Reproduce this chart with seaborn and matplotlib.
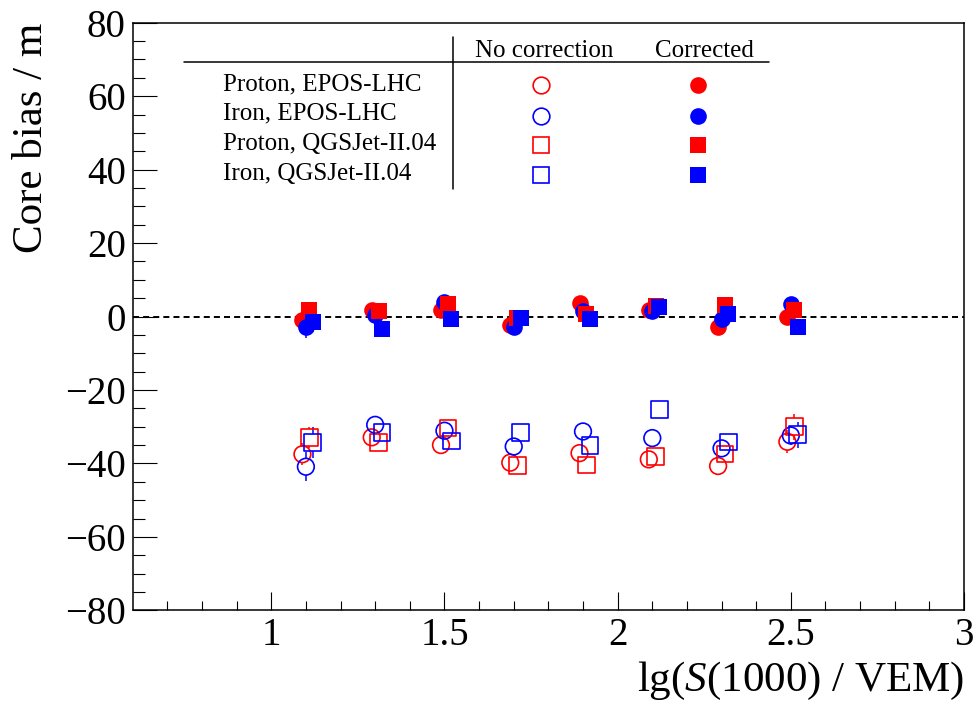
import numpy as np
import pandas as pd
import matplotlib
matplotlib.use("Agg")
import matplotlib.pyplot as plt
import seaborn as sns

# ---------------- data ----------------
lgS = [1.1, 1.3, 1.5, 1.7, 1.9, 2.1, 2.3, 2.5]
series_names = ["Proton, EPOS-LHC", "Iron, EPOS-LHC",
                "Proton, QGSJet-II.04", "Iron, QGSJet-II.04"]
x_shift = [-0.01, 0.0, 0.01, 0.02]

nocorr_p_epos = [-37.5, -32.9, -35.0, -39.8, -37.2, -38.9, -40.7, -34.1]
nocorr_fe_epos = [-40.9, -29.5, -31.1, -35.4, -31.3, -33.1, -35.9, -32.4]
nocorr_p_qgs = [-32.9, -34.3, -30.4, -40.6, -40.4, -38.1, -37.4, -30.0]
nocorr_fe_qgs = [-34.3, -31.5, -33.9, -31.5, -35.2, -25.4, -34.2, -32.2]

corr_p_epos = [-0.9, 1.9, 1.8, -2.2, 3.6, 1.9, -2.8, -0.2]
corr_fe_epos = [-2.9, 0.3, 4.0, -2.8, 1.5, 1.5, -0.8, 3.4]
corr_p_qgs = [1.8, 1.5, 3.5, -0.5, 0.8, 2.8, 3.1, 1.9]
corr_fe_qgs = [-1.5, -3.5, -0.6, -0.5, -0.8, 2.6, 0.6, -2.8]

err_nocorr_p_epos = [3.0, 2.0, 2.0, 2.0, 2.0, 2.0, 2.0, 3.2]
err_nocorr_fe_epos = [3.9, 2.0, 2.0, 2.0, 2.0, 2.0, 2.0, 2.5]
err_nocorr_p_qgs = [2.9, 2.0, 2.0, 2.0, 2.0, 2.0, 2.0, 3.5]
err_nocorr_fe_qgs = [4.1, 2.0, 2.0, 2.0, 2.0, 2.0, 2.0, 3.5]

err_corr_p_epos = [2.0, 1.5, 1.5, 1.5, 1.5, 1.5, 1.5, 2.0]
err_corr_fe_epos = [2.9, 1.5, 1.5, 1.5, 1.5, 1.5, 1.5, 2.0]
err_corr_p_qgs = [2.0, 1.5, 1.5, 1.5, 1.5, 1.5, 1.5, 2.0]
err_corr_fe_qgs = [2.6, 1.5, 1.5, 1.5, 1.5, 1.5, 1.5, 2.0]

series_colors = ["#ff0000", "#0000ff", "#ff0000", "#0000ff"]
series_markers = ["o", "o", "s", "s"]

nocorr = [nocorr_p_epos, nocorr_fe_epos, nocorr_p_qgs, nocorr_fe_qgs]
corr = [corr_p_epos, corr_fe_epos, corr_p_qgs, corr_fe_qgs]
err_nocorr = [err_nocorr_p_epos, err_nocorr_fe_epos, err_nocorr_p_qgs, err_nocorr_fe_qgs]
err_corr = [err_corr_p_epos, err_corr_fe_epos, err_corr_p_qgs, err_corr_fe_qgs]

rows = []
for i, name in enumerate(series_names):
    for j, xv in enumerate(lgS):
        rows.append(dict(series=name, idx=i, x=xv + x_shift[i], bias=nocorr[i][j],
                         err=err_nocorr[i][j], corrected=False))
        rows.append(dict(series=name, idx=i, x=xv + x_shift[i], bias=corr[i][j],
                         err=err_corr[i][j], corrected=True))
df = pd.DataFrame(rows)

# ---------------- style ----------------
sns.set_theme(style="ticks")
plt.rcParams["font.family"] = ["Liberation Serif", "DejaVu Serif"]
plt.rcParams["mathtext.fontset"] = "custom"
plt.rcParams["mathtext.rm"] = "Liberation Serif"
plt.rcParams["mathtext.it"] = "Liberation Serif:italic"
plt.rcParams["axes.unicode_minus"] = True
for key in ["text.color", "axes.labelcolor", "xtick.color", "ytick.color",
            "xtick.labelcolor", "ytick.labelcolor", "axes.edgecolor"]:
    plt.rcParams[key] = "black"

fig = plt.figure(figsize=(9.78, 7.05), dpi=100)
ax = fig.add_axes([0.1357, 0.1343, 0.85, 0.8335])

XMIN, XMAX, YMIN, YMAX = 0.6, 3.0, -80, 80
ax.set_xlim(XMIN, XMAX)
ax.set_ylim(YMIN, YMAX)

MS = 12.0  # marker size in points
ax_h_px = 0.8335 * 7.05 * 100
r_data = (MS / 2 * 100 / 72) / (ax_h_px / (YMAX - YMIN))

ax.axhline(0, color="black", lw=1.4, dashes=(3.1, 2.1), zorder=1)

for corrected_flag in (False, True):
    for i, name in enumerate(series_names):
        sub = df[(df.series == name) & (df.corrected == corrected_flag)]
        c = series_colors[i]
        # error bars, drawn outside the marker (ROOT style)
        up = sub[sub.err > r_data]
        if len(up):
            ax.vlines(up.x, up.bias + r_data, up.bias + up.err, color=c, lw=1.1, zorder=2)
            ax.vlines(up.x, up.bias - up.err, up.bias - r_data, color=c, lw=1.1, zorder=2)
        sns.scatterplot(data=sub, x="x", y="bias", marker=series_markers[i], s=MS ** 2,
                        ax=ax, legend=False, zorder=3)
        coll = ax.collections[-1]
        if corrected_flag:
            coll.set_facecolor(c)
            coll.set_edgecolor(c)
            coll.set_linewidth(0)
        else:
            coll.set_facecolor("none")
            coll.set_edgecolor(c)
            coll.set_linewidth(1.2)

# ---------------- axes ----------------
ax.set_xticks([1, 1.5, 2, 2.5, 3])
ax.set_xticklabels(["1", "1.5", "2", "2.5", "3"])
ax.set_xticks(np.arange(0.7, 3.0, 0.1), minor=True)
ax.set_yticks(np.arange(-80, 81, 20))
ax.set_yticks(np.arange(-75, 80, 5), minor=True)

ax.tick_params(axis="both", which="both", direction="in", top=False, right=False,
               width=0.8, colors="black", labelcolor="black", labelsize=28)
ax.tick_params(axis="y", which="major", length=17, pad=5)
ax.tick_params(axis="y", which="minor", length=8.6)
ax.tick_params(axis="x", which="major", length=13, pad=5)
ax.tick_params(axis="x", which="minor", length=6.5)
for sp in ax.spines.values():
    sp.set_visible(True)
    sp.set_linewidth(1.1)
    sp.set_color("black")

ax.set_xlabel(r"lg($S$(1000) / VEM)", fontsize=31, loc="right", labelpad=4, color="black")
ax.set_ylabel("Core bias / m", fontsize=31, loc="top", labelpad=10, color="black")
ax.grid(False)

# ---------------- table-style legend ----------------
T = ax.transAxes
ax.plot([0.0617, 0.7655], [0.9326, 0.9326], color="black", lw=1.1, transform=T, clip_on=False)
ax.plot([0.3857, 0.3857], [0.9762, 0.717], color="black", lw=1.1, transform=T, clip_on=False)
ax.text(0.4948, 0.9421, "No correction", transform=T, ha="center", va="baseline",
        fontsize=18, color="black")
ax.text(0.6872, 0.9421, "Corrected", transform=T, ha="center", va="baseline",
        fontsize=18, color="black")
text_y = [0.8851, 0.8356, 0.7832, 0.7322]
mark_y = [0.8940, 0.8417, 0.7919, 0.7408]
for i, name in enumerate(series_names):
    ax.text(0.1086, text_y[i], name, transform=T, ha="left", va="baseline",
            fontsize=18, color="black")
    c = series_colors[i]
    ax.plot([0.4912], [mark_y[i]], marker=series_markers[i], ms=MS, mfc="none", mec=c,
            mew=1.2, transform=T, clip_on=False, ls="none")
    ax.plot([0.6797], [mark_y[i]], marker=series_markers[i], ms=MS, mfc=c, mec=c,
            mew=0, transform=T, clip_on=False, ls="none")

fig.savefig("out.png", dpi=100, facecolor="white")
